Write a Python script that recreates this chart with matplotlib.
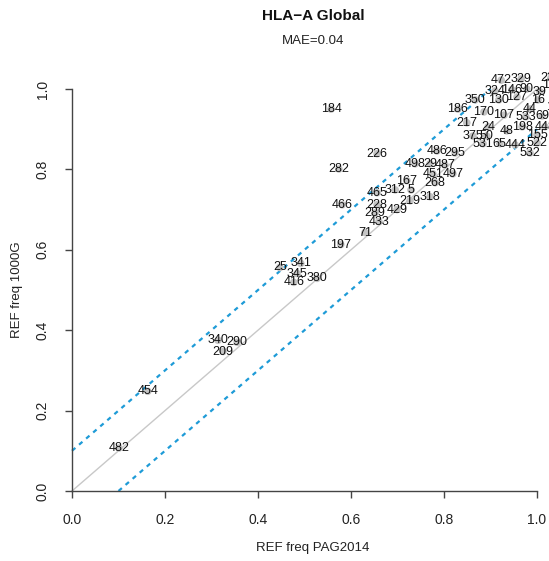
import numpy as np
import matplotlib
matplotlib.use("Agg")
import matplotlib.pyplot as plt

plt.rcParams['font.family'] = ['Liberation Sans', 'DejaVu Sans']

# labels and positions (REF freq PAG2014 vs 1000G)
labels = ["184", "186", "472", "329", "235", "146", "90", "143", "324", "39",
          "350", "130", "127", "16", "134", "170", "107", "44", "533", "69",
          "217", "24", "48", "198", "448", "375", "50", "155", "531", "65",
          "444", "522", "532", "486", "295", "226", "498", "29", "487", "282",
          "451", "497", "167", "268", "312", "5", "465", "318", "219", "228",
          "466", "429", "289", "433", "71", "197", "25", "341", "345", "380",
          "416", "340", "290", "209", "454", "482"]
x_pag = [0.557, 0.830, 0.923, 0.966, 1.030, 0.946, 0.978, 1.034, 0.910, 1.006,
         0.867, 0.918, 0.957, 1.002, 1.043, 0.886, 0.929, 0.985, 0.976, 1.011,
         0.849, 0.895, 0.935, 0.968, 1.017, 0.862, 0.892, 1.000, 0.884, 0.920,
         0.953, 1.000, 0.985, 0.785, 0.824, 0.656, 0.738, 0.770, 0.802, 0.574,
         0.776, 0.819, 0.720, 0.781, 0.695, 0.729, 0.656, 0.770, 0.727, 0.656,
         0.581, 0.699, 0.652, 0.660, 0.630, 0.578, 0.447, 0.492, 0.484, 0.527,
         0.477, 0.314, 0.355, 0.325, 0.163, 0.101]
y_1kg = [0.950, 0.950, 1.022, 1.025, 1.027, 0.998, 1.000, 1.010, 0.995, 0.993,
         0.973, 0.973, 0.980, 0.973, 0.955, 0.943, 0.935, 0.950, 0.931, 0.933,
         0.916, 0.906, 0.896, 0.906, 0.906, 0.883, 0.883, 0.886, 0.864, 0.864,
         0.861, 0.866, 0.841, 0.846, 0.841, 0.839, 0.814, 0.814, 0.811, 0.801,
         0.789, 0.789, 0.772, 0.767, 0.749, 0.749, 0.742, 0.732, 0.722, 0.712,
         0.712, 0.700, 0.692, 0.670, 0.643, 0.613, 0.556, 0.566, 0.541, 0.529,
         0.519, 0.375, 0.370, 0.347, 0.248, 0.107]

W, H = 549, 561
fig = plt.figure(figsize=(W / 100, H / 100), dpi=100)

# axes placed so that 0..1 maps onto the same pixels as the reference
px_x0, px_x1 = 72, 537
px_y0, px_y1 = 491, 89
sx = px_x1 - px_x0
sy = px_y0 - px_y1
left_px = px_x0 - 0.04 * sx
right_px = W
bot_px = px_y0 + 0.04 * sy
top_px = px_y1 - 0.04 * sy
ax = fig.add_axes([left_px / W, 1 - bot_px / H, (right_px - left_px) / W, (bot_px - top_px) / H])
ax.set_xlim(-0.04, (right_px - px_x0) / sx)
ax.set_ylim(-0.04, 1.04)
ax.patch.set_alpha(0)

# reference lines
ax.plot([0, 1], [0, 1], color='#c8c8c8', lw=1, zorder=1)
ax.plot([0, 0.9], [0.1, 1.0], color='#1e9bd7', lw=1.6, ls=(0, (2, 2.2)), zorder=2)
ax.plot([0.1, 1.0], [0.0, 0.9], color='#1e9bd7', lw=1.6, ls=(0, (2, 2.2)), zorder=2)

ax.scatter(x_pag, y_1kg, s=30, color='#c4c4c4', edgecolors='none', zorder=3, clip_on=False)
for lab, xv, yv in zip(labels, x_pag, y_1kg):
    ax.text(xv, yv, lab, fontsize=9, ha='center', va='center', color='#111111',
            zorder=4, clip_on=False)

for side in ['top', 'right']:
    ax.spines[side].set_visible(False)
for side in ['left', 'bottom']:
    ax.spines[side].set_color('#444444')
    ax.spines[side].set_linewidth(1)
    ax.spines[side].set_position(('data', 0))
ax.spines['left'].set_bounds(0, 1)
ax.spines['bottom'].set_bounds(0, 1)

ticks = [0.0, 0.2, 0.4, 0.6, 0.8, 1.0]
ax.set_xticks(ticks)
ax.set_yticks(ticks)
ax.set_xticklabels(["%.1f" % t for t in ticks])
ax.set_yticklabels(["%.1f" % t for t in ticks], rotation=90, va='center')
ax.tick_params(axis='both', length=5, width=1, color='#444444', labelsize=10,
               labelcolor='#222222')
ax.tick_params(axis='x', pad=10.5)
ax.tick_params(axis='y', pad=11)

fig.text(313 / W, 1 - 16 / H, "HLA\u2212A Global", ha='center', va='center',
         fontsize=11, fontweight='bold', color='#111111')
fig.text(313 / W, 1 - 41 / H, "MAE=0.04", ha='center', va='center', fontsize=9.5,
         color='#222222')
fig.text(313 / W, 1 - 548 / H, "REF freq PAG2014", ha='center', va='center',
         fontsize=9.5, color='#222222')
fig.text(17 / W, 1 - 290 / H, "REF freq 1000G", ha='center', va='center',
         fontsize=9.5, color='#222222', rotation=90)

fig.savefig("out.png", dpi=100)
